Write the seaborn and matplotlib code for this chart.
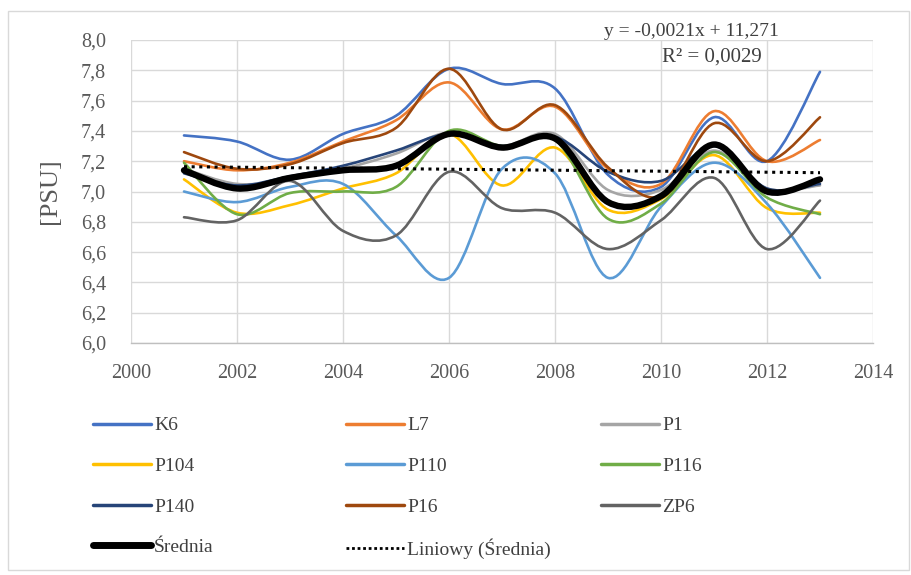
import numpy as np
import pandas as pd
import matplotlib
matplotlib.use("Agg")
import matplotlib.pyplot as plt
import seaborn as sns
from matplotlib.path import Path
from matplotlib.patches import PathPatch, Rectangle
from matplotlib.lines import Line2D

# salinity per station
years = list(range(2001, 2014))
K6 = [7.37, 7.33, 7.21, 7.38, 7.50, 7.81, 7.71, 7.68, 7.11, 7.03, 7.49, 7.20, 7.79]
L7 = [7.20, 7.14, 7.19, 7.33, 7.47, 7.72, 7.41, 7.56, 7.15, 7.05, 7.53, 7.20, 7.34]
P1 = [7.15, 7.05, 7.08, 7.15, 7.25, 7.39, 7.30, 7.38, 7.01, 7.01, 7.27, 7.02, 7.04]
P104 = [7.08, 6.86, 6.91, 7.02, 7.12, 7.38, 7.04, 7.29, 6.88, 6.95, 7.24, 6.89, 6.86]
P110 = [7.00, 6.93, 7.03, 7.05, 6.71, 6.43, 7.15, 7.12, 6.43, 6.90, 7.19, 6.92, 6.43]
P116 = [7.19, 6.85, 6.99, 7.00, 7.03, 7.40, 7.30, 7.34, 6.82, 6.92, 7.26, 6.96, 6.85]
P140 = [7.12, 7.04, 7.10, 7.17, 7.27, 7.38, 7.30, 7.36, 7.13, 7.07, 7.30, 7.02, 7.05]
P16 = [7.26, 7.15, 7.18, 7.32, 7.42, 7.81, 7.41, 7.57, 7.16, 6.97, 7.45, 7.20, 7.49]
ZP6 = [6.83, 6.81, 7.07, 6.74, 6.71, 7.13, 6.89, 6.86, 6.62, 6.81, 7.09, 6.62, 6.94]
srednia = [7.14, 7.02, 7.09, 7.14, 7.17, 7.38, 7.29, 7.35, 6.93, 6.97, 7.31, 7.00, 7.08]

names = ["K6", "L7", "P1", "P104", "P110", "P116", "P140", "P16", "ZP6"]
series = [K6, L7, P1, P104, P110, P116, P140, P16, ZP6]
colors = ["#4472C4", "#ED7D31", "#A5A5A5", "#FFC000", "#5B9BD5",
          "#70AD47", "#264478", "#9E480E", "#636363"]

x_ticks = [2000, 2002, 2004, 2006, 2008, 2010, 2012, 2014]
y_ticks = [6.0, 6.2, 6.4, 6.6, 6.8, 7.0, 7.2, 7.4, 7.6, 7.8, 8.0]


def smooth_path(xs, ys):
    # excel style smoothed line: cubic bezier through the points
    pts = np.column_stack([xs, ys]).astype(float)
    n = len(pts)
    verts = [pts[0]]
    codes = [Path.MOVETO]
    for i in range(n - 1):
        p0 = pts[i - 1] if i > 0 else pts[i]
        p1 = pts[i]
        p2 = pts[i + 1]
        p3 = pts[i + 2] if i + 2 < n else pts[i + 1]
        verts += [p1 + (p2 - p0) / 6, p2 - (p3 - p1) / 6, p2]
        codes += [Path.CURVE4] * 3
    return Path(verts, codes)


sns.set_theme(style="whitegrid")
plt.rcParams["font.family"] = ["Liberation Serif", "DejaVu Serif"]

fig = plt.figure(figsize=(9.12, 5.75), dpi=100)
ax = fig.add_axes([131 / 912, 1 - 343 / 575, (873 - 131) / 912, (343 - 40) / 575])

# outer chart border
fig.patches.append(Rectangle((8 / 912, 5 / 575), 901 / 912, 559 / 575, transform=fig.transFigure,
                             fill=False, edgecolor="#d9d9d9", linewidth=1.0))

for name, vals, col in zip(names, series, colors):
    ax.add_patch(PathPatch(smooth_path(years, vals), fill=False, edgecolor=col,
                           linewidth=1.9, capstyle="round", joinstyle="round", zorder=3))
ax.add_patch(PathPatch(smooth_path(years, srednia), fill=False, edgecolor="black",
                       linewidth=4.6, capstyle="round", joinstyle="round", zorder=4))

# linear trend of the mean
df = pd.DataFrame({"rok": years, "srednia": srednia})
sns.regplot(data=df, x="rok", y="srednia", scatter=False, ci=None, ax=ax,
            line_kws={"color": "black", "linestyle": (0, (1, 1.5)), "linewidth": 2.2, "zorder": 5})

ax.set_xlim(2000, 2014)
ax.set_ylim(6.0, 8.0)
ax.set_xticks(x_ticks)
ax.set_yticks(y_ticks)
ax.set_xticklabels([str(t) for t in x_ticks])
ax.set_yticklabels([f"{t:.1f}".replace(".", ",") for t in y_ticks])
ax.tick_params(axis="both", labelsize=14.5, colors="#595959", length=0)
ax.tick_params(axis="x", pad=15)
ax.tick_params(axis="y", pad=18)
ax.grid(True, color="#d9d9d9", linewidth=1.0)
for side in ["top", "right", "left"]:
    ax.spines[side].set_visible(False)
ax.spines["bottom"].set_color("#bfbfbf")
ax.spines["bottom"].set_linewidth(1.0)
ax.set_xlabel("")
ax.set_ylabel("[PSU]", fontsize=19, color="#595959", labelpad=14)

ax.text(0.755, 1.028, "y = -0,0021x + 11,271", transform=ax.transAxes, ha="center",
        va="center", fontsize=14, color="#404040")
ax.text(0.783, 0.945, "R² = 0,0029", transform=ax.transAxes, ha="center",
        va="center", fontsize=15, color="#404040")

# legend in three columns
handles = [Line2D([], [], color=c, linewidth=2.5) for c in colors]
h_mean = Line2D([], [], color="black", linewidth=5)
h_trend = Line2D([], [], color="black", linestyle=(0, (1, 1)), linewidth=2.0)
columns = [
    ([handles[0], handles[3], handles[6], h_mean], ["K6", "P104", "P140", "Średnia"]),
    ([handles[1], handles[4], handles[7], h_trend], ["L7", "P110", "P16", "Liniowy (Średnia)"]),
    ([handles[2], handles[5], handles[8]], ["P1", "P116", "ZP6"]),
]
x_pos = [85 / 912, 338 / 912, 593 / 912]
for (hs, ls), xp in zip(columns, x_pos):
    leg = fig.legend(hs, ls, loc="upper left", bbox_to_anchor=(xp, 1 - 409 / 575),
                     frameon=False, fontsize=14, handlelength=3.0, handletextpad=0.15,
                     labelspacing=1.18, borderaxespad=0)
    for t in leg.get_texts():
        t.set_color("#404040")

fig.savefig("out.png", dpi=100)
